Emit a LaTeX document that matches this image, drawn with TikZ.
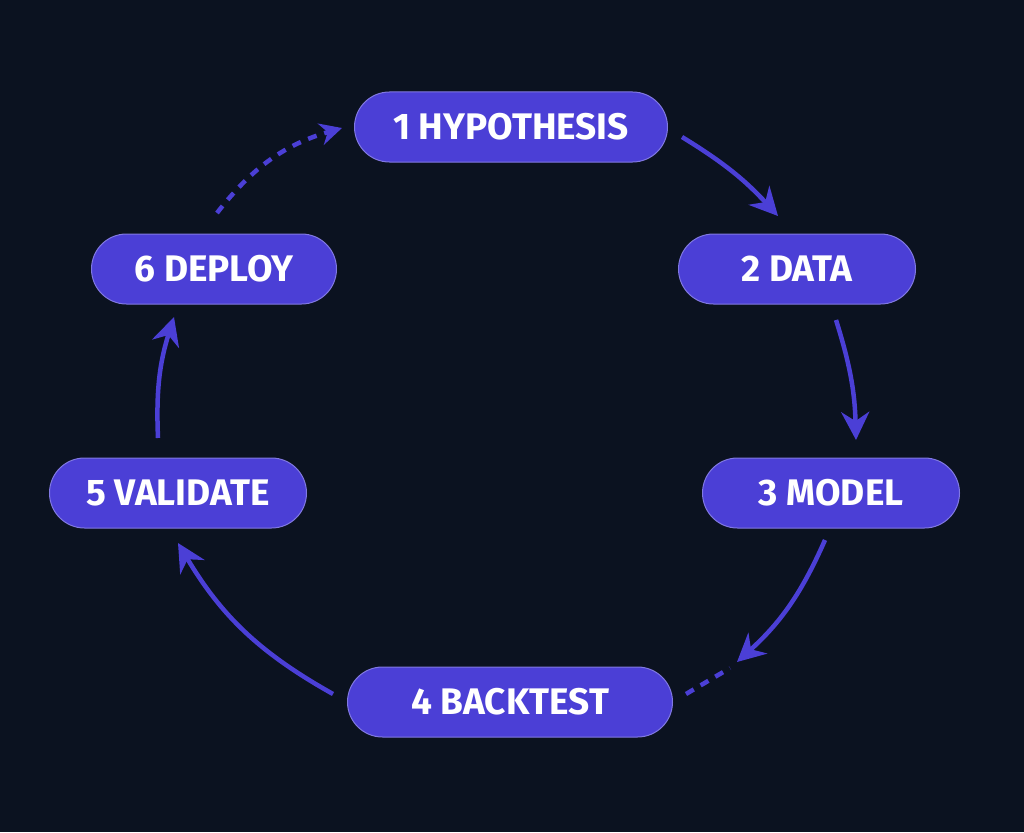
\documentclass[tikz,border=0pt]{standalone}
\usepackage{fontspec}
\setmainfont{Fira Sans}
\usetikzlibrary{arrows.meta}
\definecolor{bg}{HTML}{0B1220}
\definecolor{step}{HTML}{4B3FD6}
\begin{document}
\begin{tikzpicture}[x=1pt,y=-1pt,
  stage/.style={rectangle, rounded corners=35pt, fill=step, draw=step!70!white, line width=1pt, text=white,
    minimum height=70pt, font=\fontsize{37}{37}\selectfont\bfseries, inner xsep=0pt},
  flow/.style={draw=step, line width=4.5pt, -{Stealth[length=28pt,width=28pt]}},
  dots/.style={draw=step, line width=4.5pt, dash pattern=on 9pt off 8pt}]
\fill [bg] (0,0) rectangle (1024,832);
\useasboundingbox (0,0) rectangle (1024,832);
\node [stage, minimum width=313pt] (hyp) at (511,127) {1 HYPOTHESIS};
\node [stage, minimum width=237pt] (data) at (797,269) {2 DATA};
\node [stage, minimum width=257pt] (model) at (831,493) {3 MODEL};
\node [stage, minimum width=325pt] (back) at (510,702) {4 BACKTEST};
\node [stage, minimum width=257pt] (valid) at (178,493) {5 VALIDATE};
\node [stage, minimum width=245pt] (deploy) at (214,269) {6 DEPLOY};
\coordinate (a1) at (682,137);
\coordinate (a2) at (778,216);
\coordinate (b1) at (836,320);
\coordinate (b2) at (856,440);
\coordinate (c1) at (825,540);
\coordinate (c2) at (737,662);
\coordinate (d1) at (686,694);
\coordinate (d2) at (730,668);
\coordinate (e1) at (333,694);
\coordinate (e2) at (178,543);
\coordinate (f1) at (158,438);
\coordinate (f2) at (174,317);
\coordinate (g1) at (217,213);
\coordinate (g2) at (342,128);
\draw [flow] (a1) to[bend left=8] (a2);
\draw [flow] (b1) to[bend left=8] (b2);
\draw [flow] (c1) to[bend left=12] (c2);
\draw [dots] (d1) -- (d2);
\draw [flow] (e1) to[bend left=15] (e2);
\draw [flow] (f1) to[bend left=10] (f2);
\draw [dots, -{Stealth[length=22pt,width=22pt]}] (g1) to[bend left=18] (g2);
\end{tikzpicture}
\end{document}
